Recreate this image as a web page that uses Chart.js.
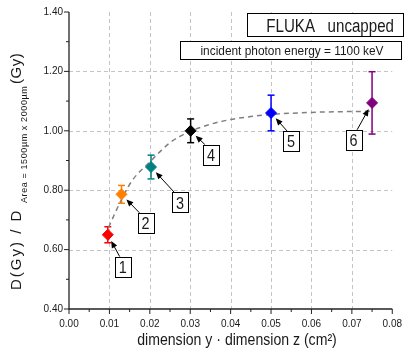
<!DOCTYPE html>
<html>
<head>
<style>
  body { margin: 0; background: #fff; }
</style>
</head>
<body>

<canvas id="myChart" width="411" height="360"></canvas>

<script src="https://cdn.jsdelivr.net/npm/chart.js"></script>

<script>
  // values
  const pointLabels = ['1', '2', '3', '4', '5', '6'];
  const areaX = [0.0096, 0.0130, 0.0203, 0.0301, 0.0500, 0.0750];
  const doseRatio = [0.650, 0.786, 0.878, 1.000, 1.060, 1.094];
  const doseErr = [0.027, 0.030, 0.040, 0.040, 0.060, 0.105];
  const pointColors = ['#ff0000', '#ff8000', '#008080', '#000000', '#0000ff', '#800080'];

  // dashed saturation curve
  const fitX = [0.0098, 0.0125, 0.0155, 0.0200, 0.0250, 0.0300, 0.0350, 0.0400, 0.0450, 0.0500, 0.0600, 0.0750];
  const fitY = [0.675, 0.755, 0.830, 0.895, 0.960, 0.998, 1.022, 1.038, 1.048, 1.055, 1.062, 1.066];

  const FONT = '"Liberation Sans", Arial, sans-serif';
  const INK = '#1a1a1a';

  // where the numbered boxes sit, relative to their point (px)
  const labelOffsets = [[15, 32], [24, 28.5], [29, 35], [20.5, 24], [20, 28], [-18.5, 37]];
  const arrowStart = [-3, -6, -6, -6, -4, 3.5];

  function squeezed(ctx, str, x, y, size, sx, align) {
    ctx.save();
    ctx.translate(x, y);
    ctx.scale(sx, 1);
    ctx.font = size + 'px ' + FONT;
    ctx.textAlign = align || 'left';
    ctx.textBaseline = 'alphabetic';
    ctx.fillText(str, 0, 0);
    ctx.restore();
  }

  function seg(ctx, x1, y1, x2, y2) {
    ctx.beginPath();
    ctx.moveTo(x1, y1);
    ctx.lineTo(x2, y2);
    ctx.stroke();
  }

  const decor = {
    id: 'decor',
    beforeDatasetsDraw(chart) {
      const ctx = chart.ctx, a = chart.chartArea;
      const x = chart.scales.x, y = chart.scales.y;
      ctx.save();
      // dashed grid
      ctx.strokeStyle = '#c4c4c4';
      ctx.lineWidth = 1;
      ctx.setLineDash([4, 3]);
      for (let i = 1; i <= 7; i++) {
        const px = Math.round(x.getPixelForValue(i / 100)) + 0.5;
        seg(ctx, px, a.top, px, a.bottom);
      }
      [0.6, 0.8, 1.0, 1.2].forEach(v => {
        const py = Math.round(y.getPixelForValue(v)) + 0.5;
        seg(ctx, a.left, py, a.right, py);
      });
      ctx.setLineDash([]);
      // error bars
      ctx.lineWidth = 1.5;
      areaX.forEach((xv, i) => {
        const px = x.getPixelForValue(xv);
        const top = y.getPixelForValue(doseRatio[i] + doseErr[i]);
        const bot = y.getPixelForValue(doseRatio[i] - doseErr[i]);
        ctx.strokeStyle = pointColors[i];
        seg(ctx, px, top, px, bot);
        seg(ctx, px - 3.5, top, px + 3.5, top);
        seg(ctx, px - 3.5, bot, px + 3.5, bot);
      });
      ctx.restore();
    },
    afterDatasetsDraw(chart) {
      const ctx = chart.ctx, a = chart.chartArea;
      const x = chart.scales.x, y = chart.scales.y;
      ctx.save();

      // numbered boxes with arrows
      areaX.forEach((xv, i) => {
        const px = x.getPixelForValue(xv), py = y.getPixelForValue(doseRatio[i]);
        const bx = px + labelOffsets[i][0], by = py + labelOffsets[i][1];
        const w = 16, h = 20;
        const sx = bx + arrowStart[i], sy = by - h / 2;
        const dx = px - sx, dy = py - sy, len = Math.hypot(dx, dy);
        const ux = dx / len, uy = dy / len;
        const ex = px - ux * 7, ey = py - uy * 7;
        ctx.strokeStyle = '#000';
        ctx.fillStyle = '#000';
        ctx.lineWidth = 1;
        seg(ctx, sx, sy, ex - ux * 4, ey - uy * 4);
        ctx.beginPath();
        ctx.moveTo(ex, ey);
        ctx.lineTo(ex - ux * 7 - uy * 3, ey - uy * 7 + ux * 3);
        ctx.lineTo(ex - ux * 7 + uy * 3, ey - uy * 7 - ux * 3);
        ctx.closePath();
        ctx.fill();
        ctx.fillStyle = '#fff';
        ctx.fillRect(bx - w / 2, by - h / 2, w, h);
        ctx.strokeRect(Math.round(bx - w / 2) + 0.5, Math.round(by - h / 2) + 0.5, w, h);
        ctx.fillStyle = INK;
        squeezed(ctx, pointLabels[i], bx, by + 6.5, 17, 0.85, 'center');
      });

      // axes lines
      ctx.strokeStyle = '#222';
      ctx.lineWidth = 1.3;
      seg(ctx, a.left, a.top, a.left, a.bottom + 0.5);
      seg(ctx, a.left, a.bottom, a.right, a.bottom);
      ctx.lineWidth = 1;
      for (let i = 0; i <= 16; i++) {
        const px = x.getPixelForValue(i * 0.005);
        seg(ctx, px, a.bottom, px, a.bottom + (i % 2 === 0 ? 5 : 3));
      }
      for (let i = 0; i <= 10; i++) {
        const py = y.getPixelForValue(0.4 + i * 0.1);
        seg(ctx, a.left, py, a.left - (i % 2 === 0 ? 5 : 3), py);
      }

      // header boxes
      ctx.lineWidth = 1;
      ctx.strokeStyle = '#000';
      ctx.fillStyle = '#fff';
      ctx.fillRect(247, 13, 156, 23);
      ctx.strokeRect(247.5, 13.5, 156, 23);
      ctx.fillRect(180, 41, 221, 18);
      ctx.strokeRect(180.5, 41.5, 221, 18);
      ctx.fillStyle = INK;
      squeezed(ctx, 'FLUKA   uncapped', 394, 31.5, 18, 0.84, 'right');
      squeezed(ctx, 'incident photon energy = 1100 keV', 292, 55, 13.5, 0.88, 'center');

      // x title
      squeezed(ctx, 'dimension y \u00b7 dimension z (cm\u00b2)', 237, 345, 16, 0.88, 'center');

      // y title, rotated, with subscript; pieces start where the picture has them
      ctx.save();
      ctx.translate(21, 0);
      ctx.rotate(-Math.PI / 2);
      ctx.textBaseline = 'alphabetic';
      ctx.textAlign = 'left';
      ctx.font = '15px ' + FONT;
      ctx.letterSpacing = '2px';
      ctx.fillText('D(Gy) / D', -290, 0);
      ctx.font = '9px ' + FONT;
      ctx.letterSpacing = '0.6px';
      ctx.fillText('Area = 1500\u00b5m x 2000\u00b5m', -203, 5.5);
      ctx.font = '15px ' + FONT;
      ctx.letterSpacing = '0.5px';
      ctx.fillText('(Gy)', -84, 0);
      ctx.restore();

      ctx.restore();
    }
  };

  const data = {
    datasets: [{
      type: 'line',
      label: 'fit',
      order: 2,
      data: fitX.map((v, i) => ({x: v, y: fitY[i]})),
      borderColor: '#808080',
      borderWidth: 1.5,
      borderDash: [5, 4],
      pointRadius: 0,
      cubicInterpolationMode: 'monotone',
      fill: false
    }, {
      type: 'scatter',
      label: 'FLUKA uncapped',
      order: 1,
      data: areaX.map((v, i) => ({x: v, y: doseRatio[i]})),
      pointStyle: 'rectRot',
      pointRadius: 5.5,
      pointBackgroundColor: pointColors,
      pointBorderColor: pointColors,
      pointBorderWidth: 1
    }]
  };

  const config = {
    type: 'scatter',
    data: data,
    options: {
      responsive: false,
      animation: false,
      devicePixelRatio: 1,
      layout: { padding: { top: 11, right: 8, left: 0, bottom: 0 } },
      plugins: { legend: { display: false }, tooltip: { enabled: false } },
      scales: {
        x: {
          type: 'linear', min: 0, max: 0.08,
          afterFit: s => { s.height = 51; },
          grid: { display: false, drawTicks: false },
          border: { display: false },
          ticks: {
            stepSize: 0.01, padding: 9,
            color: INK, font: { family: FONT, size: 10 },
            callback: v => v.toFixed(2), maxRotation: 0, autoSkip: false
          }
        },
        y: {
          type: 'linear', min: 0.4, max: 1.4,
          afterFit: s => { s.width = 69; },
          grid: { display: false, drawTicks: false },
          border: { display: false },
          ticks: {
            stepSize: 0.2, padding: 6,
            color: INK, font: { family: FONT, size: 10 },
            callback: v => v.toFixed(2)
          }
        }
      }
    },
    plugins: [decor]
  };

  const myChart = new Chart(document.getElementById('myChart'), config);
</script>

</body>
</html>
